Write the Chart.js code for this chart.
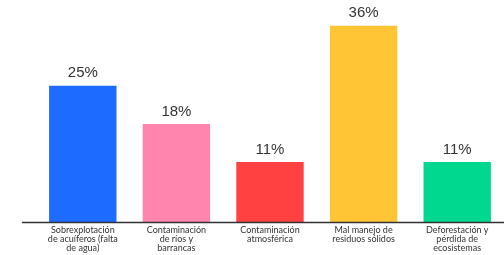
<!DOCTYPE html>
<html><head><meta charset="utf-8">
<script src="https://cdn.jsdelivr.net/npm/chart.js@4/dist/chart.umd.min.js"></script>
<style>html,body{margin:0;padding:0;background:#fff;}#wrap{width:504px;height:255px;position:relative;}</style>
</head><body><div id="wrap"><canvas id="c" width="504" height="255"></canvas></div>
<script>
const categories = [
  ["Sobrexplotación","de acuíferos (falta","de agua)"],
  ["Contaminación","de ríos y","barrancas"],
  ["Contaminación","atmosférica"],
  ["Mal manejo de","residuos sólidos"],
  ["Deforestación y","pérdida de","ecosistemas"]
];
const values = [25, 18, 11, 36, 11];
const valueLabels = ["25%","18%","11%","36%","11%"];
const colors = ["#1E6BFF","#FF85AE","#FF4141","#FFC535","#00D890"];

const valuePlugin = {
  id:'valueLabels',
  afterDatasetsDraw(chart){
    const ctx = chart.ctx;
    const meta = chart.getDatasetMeta(0);
    ctx.save();
    ctx.font = '15px "Liberation Sans", Arial, sans-serif';
    ctx.fillStyle = '#333333';
    ctx.textAlign = 'center';
    ctx.textBaseline = 'bottom';
    meta.data.forEach((bar,i)=>{ ctx.fillText(valueLabels[i], bar.x, bar.y - 5); });
    ctx.restore();
  }
};
const axisPlugin = {
  id:'axisLine',
  afterDatasetsDraw(chart){
    const ctx = chart.ctx;
    const y = chart.scales.y.getPixelForValue(0);
    ctx.save();
    ctx.strokeStyle = '#333333';
    ctx.lineWidth = 1.5;
    ctx.beginPath();
    ctx.moveTo(22, y + 0.5);
    ctx.lineTo(504, y + 0.5);
    ctx.stroke();
    ctx.restore();
  }
};

new Chart(document.getElementById('c'), {
  type:'bar',
  data:{ labels: categories, datasets:[{ data: values, backgroundColor: colors, borderWidth:0, barPercentage:0.72, categoryPercentage:1 }]},
  options:{
    responsive:false, animation:false,
    layout:{ padding:{ left:36, right:0, top:4, bottom:-2 } },
    plugins:{ legend:{display:false}, tooltip:{enabled:false} },
    scales:{
      x:{ grid:{display:false, drawTicks:false}, border:{display:false},
          ticks:{ color:'#333333', font:{family:'Lato, "Liberation Sans", sans-serif', size:9, lineHeight:1.0}, padding:4, maxRotation:0, autoSkip:false } },
      y:{ display:false, min:0, max:40 }
    }
  },
  plugins:[valuePlugin, axisPlugin]
});
</script></body></html>
